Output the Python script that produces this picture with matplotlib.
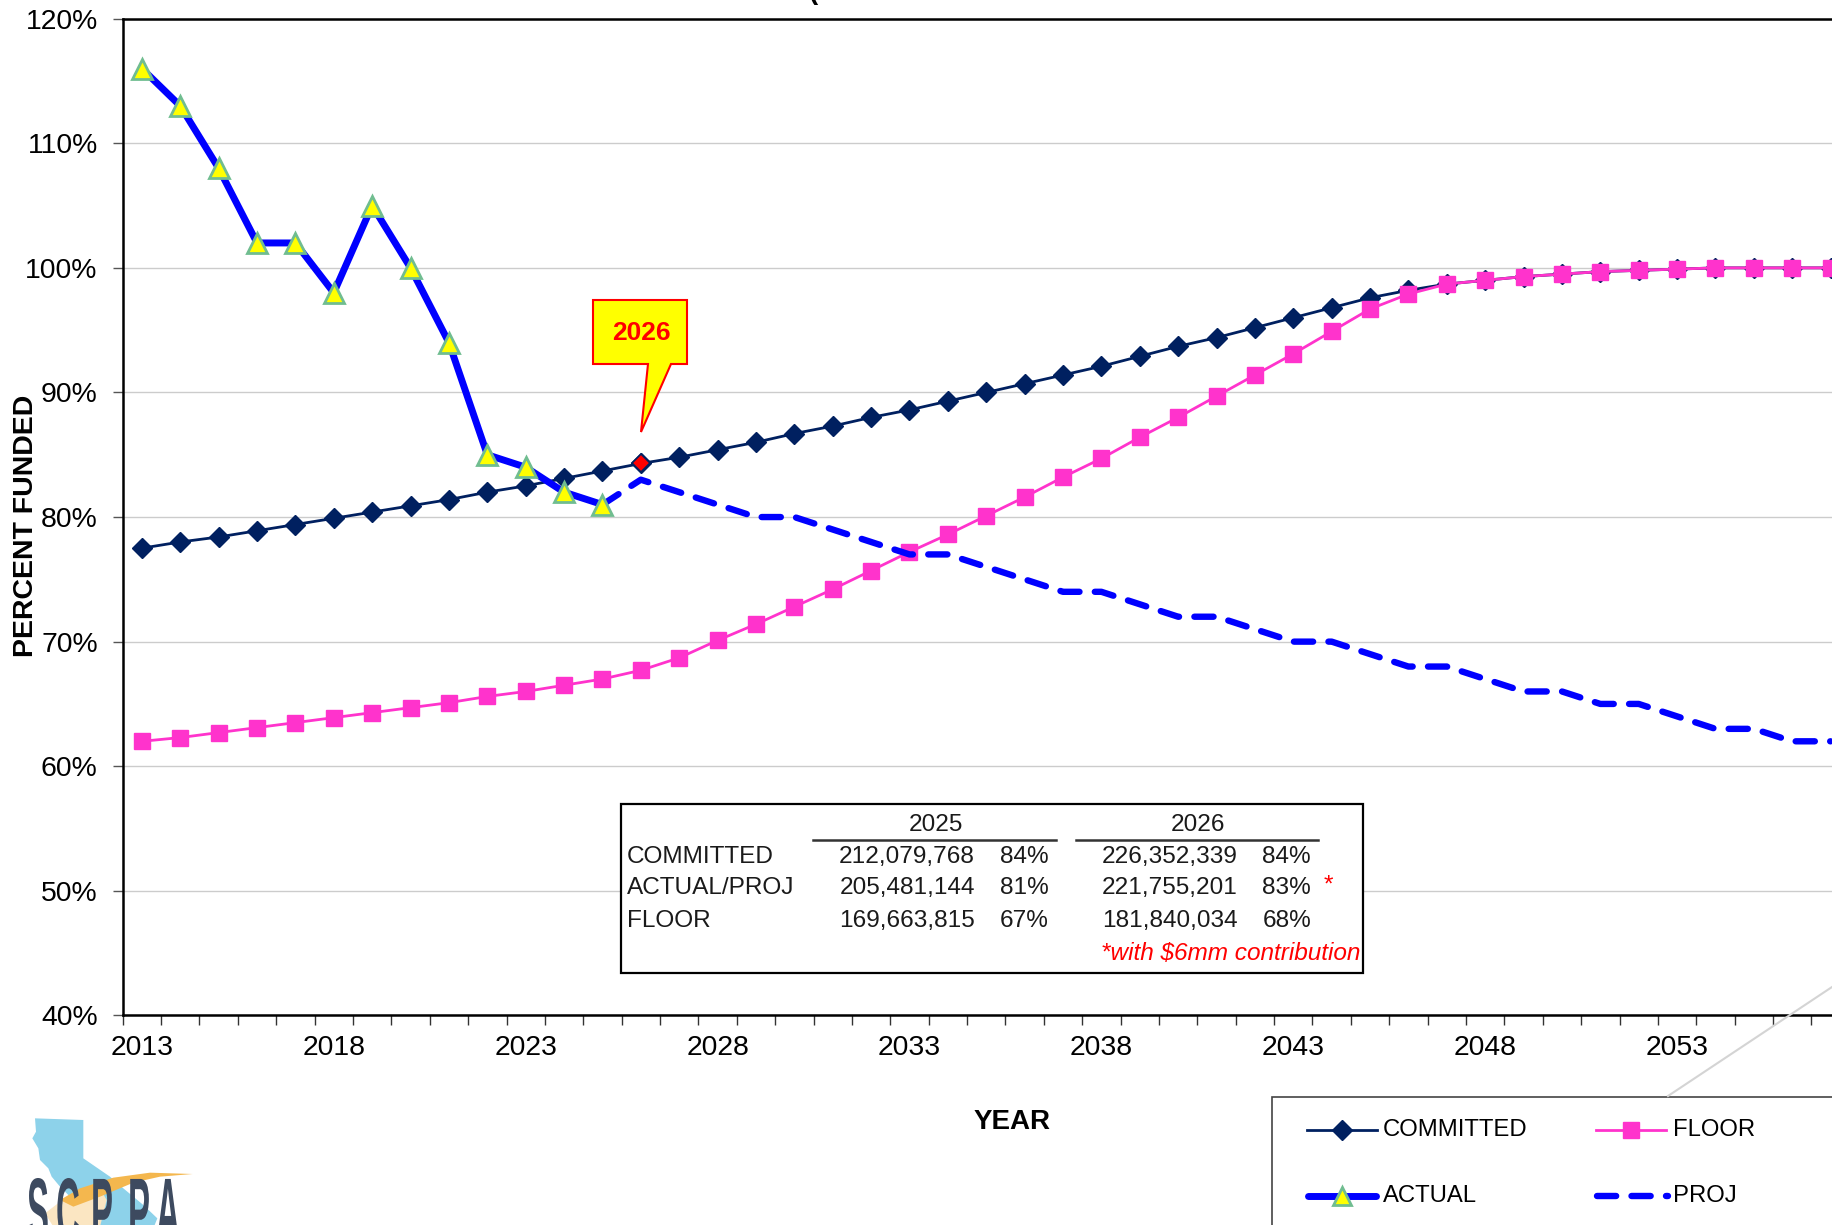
import matplotlib
matplotlib.use('Agg')
import matplotlib.pyplot as plt
from matplotlib.patches import Polygon, Rectangle
from matplotlib.lines import Line2D
from matplotlib.patheffects import AbstractPathEffect
from matplotlib.transforms import Affine2D

plt.rcParams['font.family'] = ['Liberation Sans', 'DejaVu Sans']

W, H = 1832, 1225

actual_years = list(range(2013, 2026))
actual = [116, 113, 108, 102, 102, 98, 105, 100, 94, 85, 84, 82, 81]

proj_years = list(range(2025, 2058))
proj = [81, 83, 82, 81, 80, 80, 79, 78, 77, 77, 76, 75, 74, 74, 73, 72, 72, 71, 70, 70,
        69, 68, 68, 67, 66, 66, 65, 65, 64, 63, 63, 62, 62]

years = list(range(2013, 2058))
committed = [77.5, 78.0, 78.4, 78.9, 79.4, 79.9, 80.4, 80.9, 81.4, 82.0, 82.5, 83.1, 83.7,
             84.3, 84.8, 85.4, 86.0, 86.7, 87.3, 88.0, 88.6, 89.3, 90.0, 90.7, 91.4, 92.1,
             92.9, 93.7, 94.4, 95.2, 96.0, 96.8, 97.6, 98.2, 98.7, 99.0, 99.3, 99.5, 99.7,
             99.8, 99.9, 100, 100, 100, 100]
floor = [62.0, 62.3, 62.7, 63.1, 63.5, 63.9, 64.3, 64.7, 65.1, 65.6, 66.0, 66.5, 67.0,
         67.7, 68.7, 70.1, 71.4, 72.8, 74.2, 75.7, 77.2, 78.6, 80.1, 81.6, 83.2, 84.7,
         86.4, 88.0, 89.7, 91.4, 93.1, 94.9, 96.7, 97.9, 98.7, 99.0, 99.3, 99.5, 99.7,
         99.8, 99.9, 100, 100, 100, 100]

year_labels = [2013, 2018, 2023, 2028, 2033, 2038, 2043, 2048, 2053]
pct_ticks = [40, 50, 60, 70, 80, 90, 100, 110, 120]

table_rows = ['COMMITTED', 'ACTUAL/PROJ', 'FLOOR']
table_2025 = ['212,079,768', '205,481,144', '169,663,815']
pct_2025 = ['84%', '81%', '67%']
table_2026 = ['226,352,339', '221,755,201', '181,840,034']
pct_2026 = ['84%', '83%', '68%']

NAVY = '#002060'
PINK = '#ff33cc'
BLUE = '#0000ff'
GREEN = '#70bd90'
YEL = '#ffff00'
RED = '#ff0000'

fig = plt.figure(figsize=(W / 100, H / 100), dpi=100, facecolor='white')

# axes run off the right edge of the page, like the reference crop
left, top, bottom = 122.7, 18.7, 1015.4
xmin, xmax = 2012.5, 2058.5
width = (xmax - xmin) * 38.38
ax = fig.add_axes([left / W, 1 - bottom / H, width / W, (bottom - top) / H])

ax.plot(years, committed, color=NAVY, lw=2, marker='D', ms=10.5, mfc=NAVY, mec=NAVY, zorder=3)
ax.plot([2026], [committed[years.index(2026)]], ls='none', marker='D', ms=9.5, mfc=RED, mec=NAVY, mew=1.2, zorder=3.1)
ax.plot(years, floor, color=PINK, lw=2, marker='s', ms=11.5, mfc=PINK, mec=PINK, zorder=4)
ax.plot(proj_years, proj, color=BLUE, lw=4.6, dashes=(3.0, 2.4), dash_capstyle='round', zorder=5)
ax.plot(actual_years, actual, color=BLUE, lw=5, solid_joinstyle='round', zorder=6)
ax.plot(actual_years, actual, ls='none', marker='^', ms=14, mfc=YEL, mec=GREEN, mew=2, zorder=7)

ax.set_xlim(xmin, xmax)
ax.set_ylim(40, 120)
ax.set_yticks(pct_ticks)
ax.set_yticklabels([f'{p}%' for p in pct_ticks], fontsize=20.4)
ax.set_xticks(year_labels)
ax.set_xticklabels([str(y) for y in year_labels], fontsize=20.4)
ax.set_xticks([xmin + i for i in range(47)], minor=True)
ax.tick_params(axis='x', which='major', length=0, pad=14)
ax.tick_params(axis='x', which='minor', length=7, width=1, color='#333333')
ax.tick_params(axis='y', length=7, width=1, color='#555555', pad=11)
ax.grid(axis='y', color='#cccccc', lw=1)
ax.set_axisbelow(True)
for s in ['left', 'bottom', 'top']:
    ax.spines[s].set_linewidth(1.8)
ax.spines['right'].set_visible(False)

# overlay in page pixels for callout, table, legend and logo
ov = fig.add_axes([0, 0, 1, 1], zorder=10)
ov.set_xlim(0, W)
ov.set_ylim(H, 0)
ov.axis('off')
ov.patch.set_alpha(0)

# title is cut off by the top of the page, only this bit shows
ov.text(813, 5, '(', fontsize=20, fontweight='bold', ha='center', va='bottom')

# callout
ov.add_patch(Polygon([(593, 300), (687, 300), (687, 364), (671, 364), (641, 432), (648, 364), (593, 364)],
                     fc=YEL, ec=RED, lw=1.5))
ov.text(641, 333, '2026', color=RED, fontsize=19, fontweight='bold', ha='center', va='center')

# table box
ov.add_patch(Rectangle((621, 804), 742, 169, fc='white', ec='black', lw=1.6))
tfs = 17.6
tcol = '#1a1a1a'
ov.text(936, 825, '2025', fontsize=tfs, color=tcol, ha='center', va='center')
ov.text(1198, 825, '2026', fontsize=tfs, color=tcol, ha='center', va='center')
ov.add_line(Line2D([813, 1056], [840, 840], color='#333333', lw=1.8))
ov.add_line(Line2D([1076, 1318], [840, 840], color='#333333', lw=1.8))
row_y = [857, 888, 921]
for i, y in enumerate(row_y):
    ov.text(627, y, table_rows[i], fontsize=tfs, color=tcol, ha='left', va='center')
    ov.text(975, y, table_2025[i], fontsize=tfs, color=tcol, ha='right', va='center')
    ov.text(1049, y, pct_2025[i], fontsize=tfs, color=tcol, ha='right', va='center')
    ov.text(1238, y, table_2026[i], fontsize=tfs, color=tcol, ha='right', va='center')
    ov.text(1311, y, pct_2026[i], fontsize=tfs, color=tcol, ha='right', va='center')
ov.text(1328, 886, '*', fontsize=tfs, color=RED, ha='center', va='center')
ov.text(1360, 953, '*with $6mm contribution'.replace('$', r'\$'), fontsize=tfs, color=RED, style='italic', ha='right', va='center')

# axis titles
ov.text(1012, 1122, 'YEAR', fontsize=20, fontweight='bold', ha='center', va='center')
ov.text(26, 526, 'PERCENT FUNDED', fontsize=20.5, fontweight='bold', rotation=90, ha='center', va='center')

# legend box and its leader line
ov.add_line(Line2D([1668, 1832], [1096, 987], color='#d4d4d4', lw=1.5))
ov.add_patch(Rectangle((1272, 1097), 700, 300, fc='white', ec='#444444', lw=1.2))
ov.add_line(Line2D([1307, 1377], [1130, 1130], color=NAVY, lw=2, marker='D', ms=10.5, mfc=NAVY, mec=NAVY, markevery=[]))
ov.plot([1342], [1130], marker='D', ms=10.5, color=NAVY)
ov.text(1383, 1130, 'COMMITTED', fontsize=17.2, ha='left', va='center')
ov.add_line(Line2D([1596, 1666], [1130, 1130], color=PINK, lw=2))
ov.plot([1631], [1130], marker='s', ms=11.5, color=PINK)
ov.text(1673, 1130, 'FLOOR', fontsize=17.2, ha='left', va='center')
ov.add_line(Line2D([1308, 1376], [1196, 1196], color=BLUE, lw=5, solid_capstyle='round'))
ov.plot([1342], [1196], marker='^', ms=13, mfc=YEL, mec=GREEN, mew=2)
ov.text(1383, 1196, 'ACTUAL', fontsize=17.2, ha='left', va='center')
ov.add_line(Line2D([1597, 1668], [1196, 1196], color=BLUE, lw=4.6, dashes=(3.0, 2.4), dash_capstyle='round'))
ov.text(1673, 1196, 'PROJ', fontsize=17.2, ha='left', va='center')


# logo
class Squeeze(AbstractPathEffect):
    def __init__(self, sx):
        super().__init__()
        self.sx = sx

    def draw_path(self, renderer, gc, tpath, affine, rgbFace=None):
        renderer.draw_path(gc, tpath, Affine2D().scale(self.sx, 1) + affine, rgbFace)


def z(pts):
    return [(x / 3, 1000 + y / 3) for x, y in pts]


ov.add_patch(Polygon(z([(105, 355), (250, 360), (250, 475), (330, 530), (370, 565), (430, 615), (472, 655), (462, 680),
                        (300, 680), (180, 560), (155, 530), (145, 505), (120, 480), (115, 445), (97, 415), (108, 395)]),
                     fc='#8dd2ea', ec='none'))
ov.add_patch(Polygon(z([(135, 640), (200, 590), (290, 548), (320, 600), (300, 680), (160, 680)]), fc='#fbe6c2', ec='none'))
ov.add_patch(Polygon(z([(578, 522), (450, 518), (340, 533), (240, 565), (180, 600), (220, 620), (300, 590), (400, 548), (480, 530)]),
                     fc='#f4b74e', ec='none'))
for ch, lx in zip('SCPPA', [27, 56, 91, 128, 156]):
    ov.text(lx, 1242, ch, fontsize=66, fontweight='bold', color='#3d4a5f', ha='left', va='baseline',
            path_effects=[Squeeze(0.36)])

fig.savefig('out.png', dpi=100)
